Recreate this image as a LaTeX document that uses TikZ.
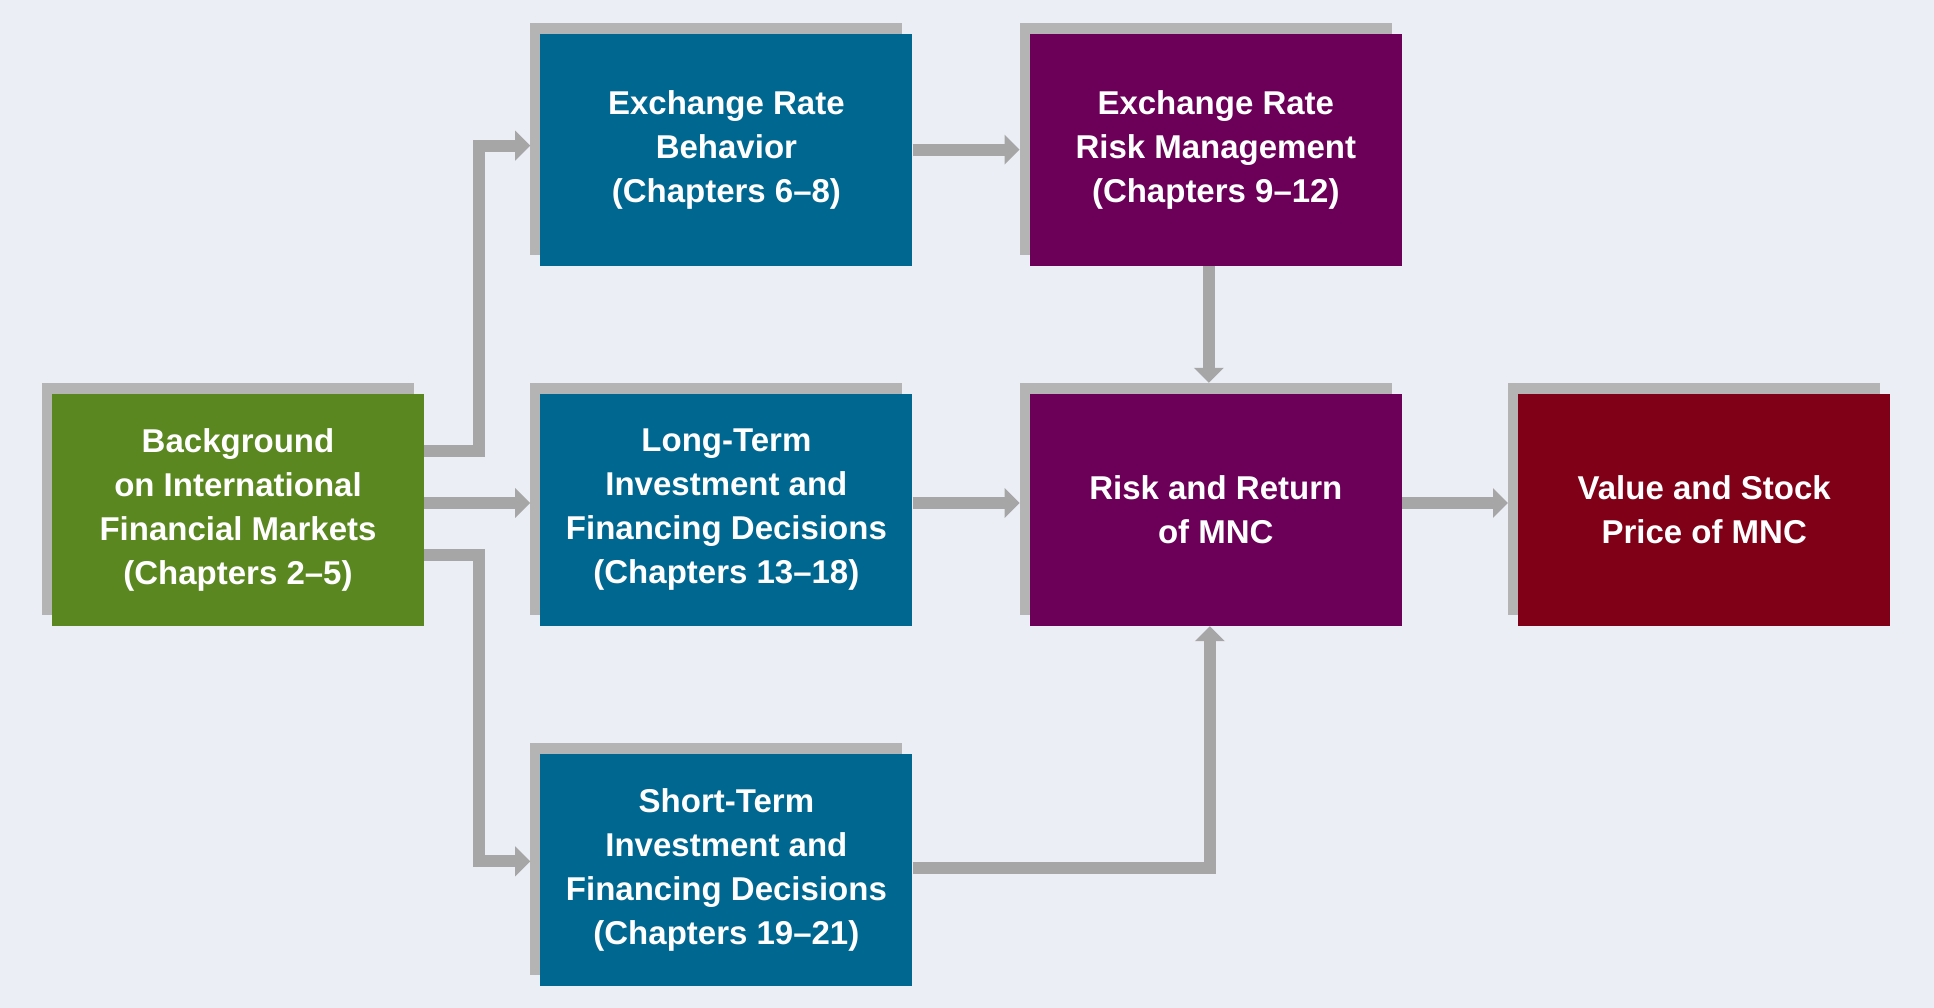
\documentclass[tikz,border=0pt]{standalone}
\usepackage{fontspec}
\usepackage{xcolor}
\usepackage{tikz}
\usetikzlibrary{arrows.meta, positioning, shadows}
\newfontfamily\boxfont{Liberation Sans}[Ligatures=TeX]
\definecolor{MapBack}{RGB}{236,238,245}
\definecolor{MapGreen}{RGB}{90,135,32}
\definecolor{MapBlue}{RGB}{0,103,144}
\definecolor{MapPurple}{RGB}{108,0,88}
\definecolor{MapRed}{RGB}{128,0,24}
\definecolor{MapShadow}{RGB}{180,180,180}
\definecolor{MapLink}{RGB}{166,166,166}

\begin{document}
\begin{tikzpicture}[
    block/.style={rectangle, fill=MapBlue, text=white, align=center,
                  minimum width=372pt, minimum height=232pt, inner sep=0pt,
                  font=\boxfont\bfseries\fontsize{33}{44}\selectfont,
                  drop shadow={shadow xshift=-10pt, shadow yshift=11pt, fill=MapShadow, opacity=1}},
    arrow/.style={-{Triangle[length=15pt, width=29pt]}, line width=12pt, color=MapLink, line join=miter},
    node distance=128pt and 116pt,
]
\fill[MapBack] (0,0) rectangle (1934pt,-1008pt);
\useasboundingbox (0,0) rectangle (1934pt,-1008pt);

\node[block, fill=MapGreen] (bg) at (238pt,-510pt) {Background\\on International\\Financial Markets\\(Chapters 2--5)};
\node[block, right=of bg] (ltid) {Long-Term\\Investment and\\Financing Decisions\\(Chapters 13--18)};
\node[block, above=of ltid] (exbh) {Exchange Rate\\Behavior\\(Chapters 6--8)};
\node[block, below=of ltid] (stid) {Short-Term\\Investment and\\Financing Decisions\\(Chapters 19--21)};
\node[block, right=117pt of ltid, fill=MapPurple] (rrmnc) {Risk and Return\\of MNC};
\node[block, above=of rrmnc, fill=MapPurple] (exrm) {Exchange Rate\\Risk Management\\(Chapters 9--12)};
\node[block, right=of rrmnc, fill=MapRed] (vsmnc) {Value and Stock\\Price of MNC};

\draw[arrow, shorten >=10pt] ([yshift=59pt]bg.east) -- ++(55pt,0) |- ([yshift=4pt]exbh.west);
\draw[arrow, shorten >=10pt] ([yshift=7pt]bg.east) -- ([yshift=7pt]ltid.west);
\draw[arrow, shorten >=10pt] ([yshift=-45pt]bg.east) -- ++(55pt,0) |- ([yshift=9pt]stid.west);
\draw[arrow, shorten >=10pt] (exbh.east) -- (exrm.west);
\draw[arrow, shorten >=10pt] ([yshift=7pt]ltid.east) -- ([yshift=7pt]rrmnc.west);
\draw[arrow, shorten >=10pt] ([yshift=7pt]rrmnc.east) -- ([yshift=7pt]vsmnc.west);
\draw[arrow, shorten >=11pt] ([xshift=-7pt]exrm.south) -- ([xshift=-7pt]rrmnc.north);
\draw[arrow] ([yshift=2pt]stid.east) -| ([xshift=-6pt]rrmnc.south);
\end{tikzpicture}
\end{document}
